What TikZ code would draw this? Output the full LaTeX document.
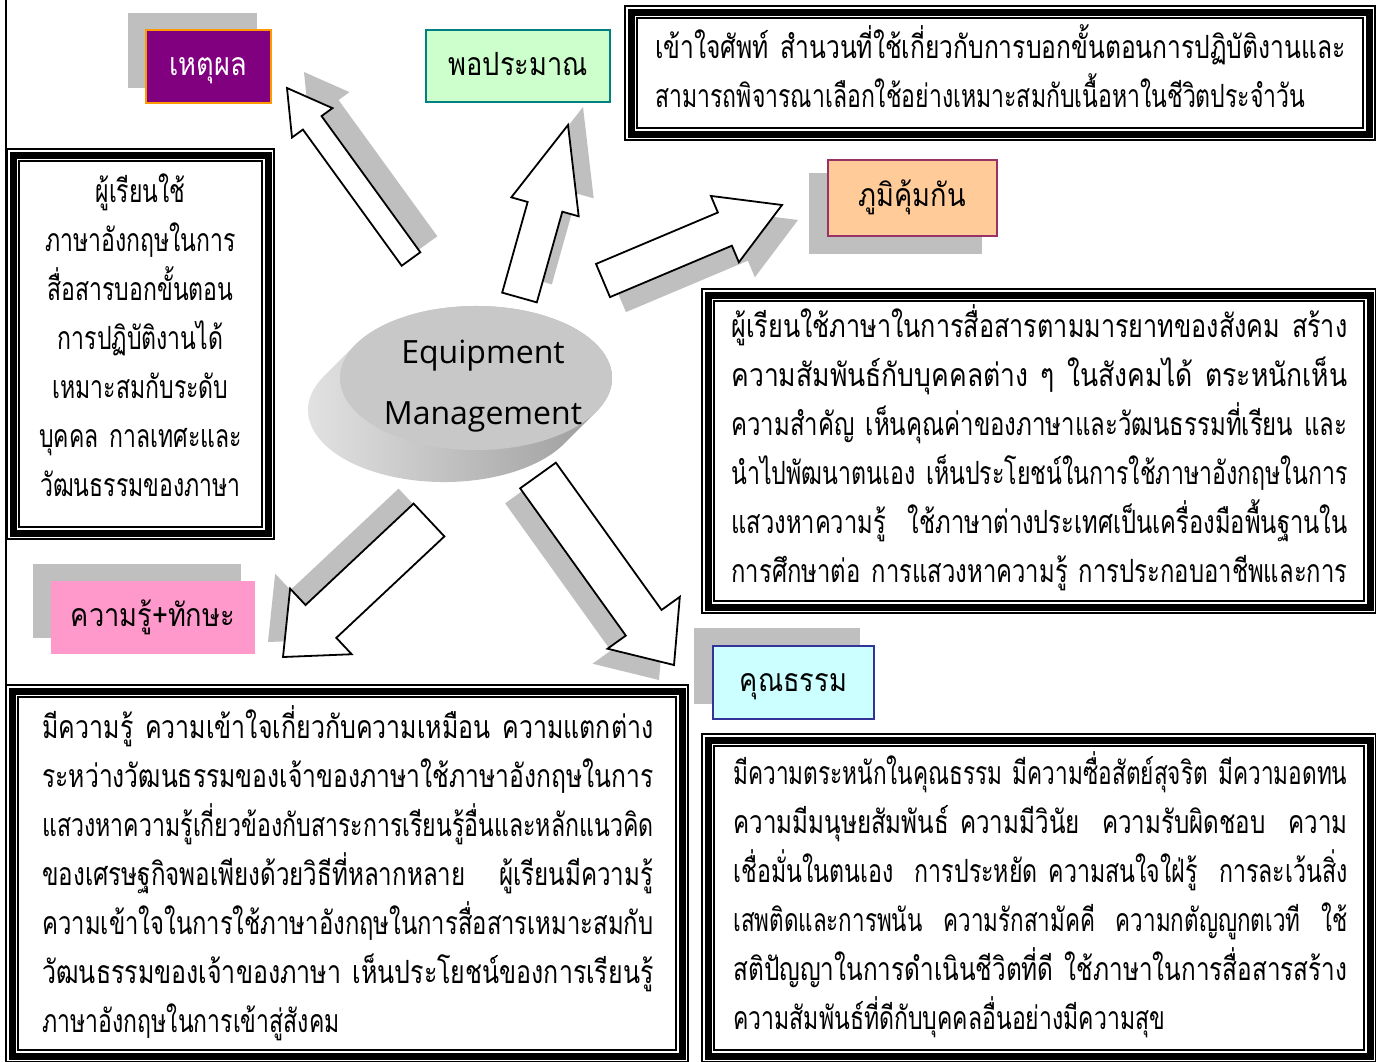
\documentclass[tikz,border=0pt]{standalone}
\usepackage{fontspec}
\usepackage{graphicx}
\usepackage{tikz}
\usetikzlibrary{calc}
\newfontfamily\thaifont[Script=Thai,FakeStretch=0.72]{Loma}
\newfontfamily\tagfont[Script=Thai,FakeStretch=0.85]{Loma}
\newfontfamily\hubfont{Open Sans}
\pgfdeclarelayer{bg}
\pgfsetlayers{bg,main}

\definecolor{reasonfill}{RGB}{128,0,128}
\definecolor{reasonline}{RGB}{255,153,0}
\definecolor{moderfill}{RGB}{204,255,204}
\definecolor{moderline}{RGB}{0,128,128}
\definecolor{immunefill}{RGB}{255,204,153}
\definecolor{immuneline}{RGB}{153,51,102}
\definecolor{skillfill}{RGB}{255,153,204}
\definecolor{virtuefill}{RGB}{204,255,255}
\definecolor{virtueline}{RGB}{51,51,153}
\definecolor{shadowgray}{RGB}{191,191,191}
\definecolor{hubtop}{RGB}{200,200,200}
\definecolor{hubhi}{RGB}{230,230,230}
\definecolor{hubside}{RGB}{150,150,150}

%% block arrow: style, tail, tip, half shaft, half head, head length
\newcommand\arrowshape[6]{%
  \coordinate (neck) at ($(#3)!#6!(#2)$);
  \path[#1] ($(#2)!#4!90:(#3)$) -- ($(neck)!#4!90:(#3)$) -- ($(neck)!#5!90:(#3)$)
    -- (#3) -- ($(neck)!#5!-90:(#3)$) -- ($(neck)!#4!-90:(#3)$)
    -- ($(#2)!#4!-90:(#3)$) -- cycle;
}
%% arrow with its grey copy behind it
\newcommand\blockarrow[6]{%
  \coordinate (stail) at ($(#1)+(#6)$);
  \coordinate (stip) at ($(#2)+(#6)$);
  \arrowshape{arrowshade}{stail}{stip}{#3}{#4}{#5}
  \arrowshape{arrowbody}{#1}{#2}{#3}{#4}{#5}
}
%% thin-thick-thin frame, given by the middle of the thick line
\newcommand\tripleframe[2]{%
  \draw[line width=3.5pt] (#1) rectangle (#2);
  \draw[line width=0.6pt] ($(#1)+(-6,-6)$) rectangle ($(#2)+(6,6)$);
  \draw[line width=0.6pt] ($(#1)+(6,6)$) rectangle ($(#2)+(-6,-6)$);
}
%% justified line (Thai style: the whole line is spread)
\newlength\parawd
\newcommand\fillline[1]{\leavevmode\resizebox{\parawd}{\height}{#1}}

\begin{document}
\begin{tikzpicture}[x=0.5pt,y=-0.5pt,
  tag/.style={inner sep=0pt, anchor=north west, line width=0.9pt,
    text height=0.94em, text depth=0.06em,
    font=\tagfont\fontsize{16}{18}\selectfont},
  para/.style={anchor=base west, inner sep=0pt, align=left, text width=#1,
    execute at begin node={\setlength\parawd{#1}},
    font=\thaifont\fontsize{16}{24.5}\selectfont},
  arrowbody/.style={draw=black, fill=white, line width=0.9pt, line join=miter},
  arrowshade/.style={fill=shadowgray}]

	\begin{pgfonlayer}{bg}
		\fill[white] (0,0) rectangle (1376,1061);
	\end{pgfonlayer}
	\useasboundingbox (0,0) rectangle (1376,1061);
	\draw[line width=1pt] (6,0) -- (6,1061);

	%% Text boxes
	\tripleframe{631,12}{1369,134}
	\node[para=345pt] (unittext) at (655,58)
		{\fillline{เข้าใจศัพท์ สำนวนที่ใช้เกี่ยวกับการบอกขั้นตอนการปฏิบัติงานและ}\\
		 สามารถพิจารณาเลือกใช้อย่างเหมาะสมกับเนื้อหาในชีวิตประจำวัน};

	\tripleframe{13,155}{268,533}
	\node[para=124pt, anchor=base, align=center] (learntext) at (140.5,202)
		{ผู้เรียนใช้\\ภาษาอังกฤษในการ\\สื่อสารบอกขั้นตอน\\การปฏิบัติงานได้\\
		 เหมาะสมกับระดับ\\บุคคล กาลเทศะและ\\วัฒนธรรมของภาษา};

	\tripleframe{708,295}{1370,607}
	\node[para=308pt] (culturetext) at (731,337)
		{\fillline{ผู้เรียนใช้ภาษาในการสื่อสารตามมารยาทของสังคม สร้าง}\\
		 \fillline{ความสัมพันธ์กับบุคคลต่าง ๆ ในสังคมได้ ตระหนักเห็น}\\
		 \fillline{ความสำคัญ เห็นคุณค่าของภาษาและวัฒนธรรมที่เรียน และ}\\
		 \fillline{นำไปพัฒนาตนเอง เห็นประโยชน์ในการใช้ภาษาอังกฤษในการ}\\
		 \fillline{แสวงหาความรู้ \ ใช้ภาษาต่างประเทศเป็นเครื่องมือพื้นฐานใน}\\
		 \fillline{การศึกษาต่อ การแสวงหาความรู้ การประกอบอาชีพและการ}};

	\tripleframe{12,691}{682,1056}
	\node[para=305.5pt] (knowtext) at (42,738)
		{\fillline{มีความรู้ ความเข้าใจเกี่ยวกับความเหมือน ความแตกต่าง}\\
		 \fillline{ระหว่างวัฒนธรรมของเจ้าของภาษาใช้ภาษาอังกฤษในการ}\\
		 \fillline{แสวงหาความรู้เกี่ยวข้องกับสาระการเรียนรู้อื่นและหลักแนวคิด}\\
		 \fillline{ของเศรษฐกิจพอเพียงด้วยวิธีที่หลากหลาย \ \ ผู้เรียนมีความรู้}\\
		 \fillline{ความเข้าใจในการใช้ภาษาอังกฤษในการสื่อสารเหมาะสมกับ}\\
		 \fillline{วัฒนธรรมของเจ้าของภาษา เห็นประโยชน์ของการเรียนรู้}\\
		 ภาษาอังกฤษในการเข้าสู่สังคม};

	\tripleframe{708,740}{1370,1056}
	\node[para=307pt] (virtuetext) at (733,784)
		{\fillline{มีความตระหนักในคุณธรรม มีความซื่อสัตย์สุจริต มีความอดทน}\\
		 \fillline{ความมีมนุษยสัมพันธ์ ความมีวินัย \ ความรับผิดชอบ \ ความ}\\
		 \fillline{เชื่อมั่นในตนเอง \ การประหยัด ความสนใจใฝ่รู้ \ การละเว้นสิ่ง}\\
		 \fillline{เสพติดและการพนัน \ ความรักสามัคคี \ ความกตัญญูกตเวที \ ใช้}\\
		 \fillline{สติปัญญาในการดำเนินชีวิตที่ดี ใช้ภาษาในการสื่อสารสร้าง}\\
		 ความสัมพันธ์ที่ดีกับบุคคลอื่นอย่างมีความสุข};

	%% Labels
	\node[tag, fill=reasonfill, draw=reasonline, text=white,
		minimum width=62.5pt, minimum height=36.5pt] (reason) at (145,29) {เหตุผล};
	\node[tag, fill=moderfill, draw=moderline, line width=1.2pt,
		minimum width=92pt, minimum height=36pt] (moder) at (425,29) {พอประมาณ};
	\node[tag, fill=immunefill, draw=immuneline,
		minimum width=84.5pt, minimum height=38pt] (immune) at (827,159) {ภูมิคุ้มกัน};
	\node[tag, fill=skillfill,
		minimum width=102pt, minimum height=36.5pt] (skill) at (50,580) {ความรู้+ทักษะ};
	\node[tag, fill=virtuefill, draw=virtueline,
		minimum width=80.5pt, minimum height=36.5pt] (virtue) at (712,645) {คุณธรรม};

	% grey blocks behind the labels
	\begin{pgfonlayer}{bg}
		\fill[shadowgray] ($(reason.north west)+(-17,-16)$) rectangle ($(reason.south east)+(-15,-16)$);
		\fill[shadowgray] ($(immune.north west)+(-18,14)$) rectangle ($(immune.south east)+(-16,17)$);
		\fill[shadowgray] ($(skill.north west)+(-17,-16)$) rectangle ($(skill.south east)+(-15,-17)$);
		\fill[shadowgray] ($(virtue.north west)+(-18,-17)$) rectangle ($(virtue.south east)+(-15,-16)$);
	\end{pgfonlayer}

	%% Centre disc
	\coordinate (hubc) at (476,378);
	\shade[left color=hubhi, right color=hubside]
		($(hubc)+(120.2,33.7)$) -- ++(-32,32)
		arc[start angle=27.9, end angle=207.9, x radius=136, y radius=72]
		-- ($(hubc)+(-120.2,-33.7)$)
		arc[start angle=207.9, end angle=387.9, x radius=136, y radius=72] -- cycle;
	\fill[hubtop] (hubc) ellipse[x radius=136, y radius=72];
	\node[font=\hubfont\fontsize{16}{30.5}\selectfont, align=center] (hub) at (483,386)
		{Equipment\\Management};

	%% Arrows out of the disc
	\coordinate (a1tail) at (411,259);   \coordinate (a1tip) at (287,88);
	\coordinate (a2tail) at (519.5,297.5); \coordinate (a2tip) at (568,125);
	\coordinate (a3tail) at (603,280.5); \coordinate (a3tip) at (782,205);
	\coordinate (a4tail) at (429,520);   \coordinate (a4tip) at (283,657);
	\coordinate (a5tail) at (538,475.5); \coordinate (a5tip) at (674,665);
	\blockarrow{a1tail}{a1tip}{5.75pt}{12.5pt}{21.5pt}{17,-16}
	\blockarrow{a2tail}{a2tip}{9pt}{17.5pt}{42.5pt}{15,-18}
	\blockarrow{a3tail}{a3tip}{9pt}{18pt}{31pt}{16,15}
	\blockarrow{a4tail}{a4tip}{11.25pt}{22.5pt}{26pt}{-15,-15}
	\blockarrow{a5tail}{a5tip}{11pt}{22.25pt}{26pt}{-15,15}
\end{tikzpicture}
\end{document}
